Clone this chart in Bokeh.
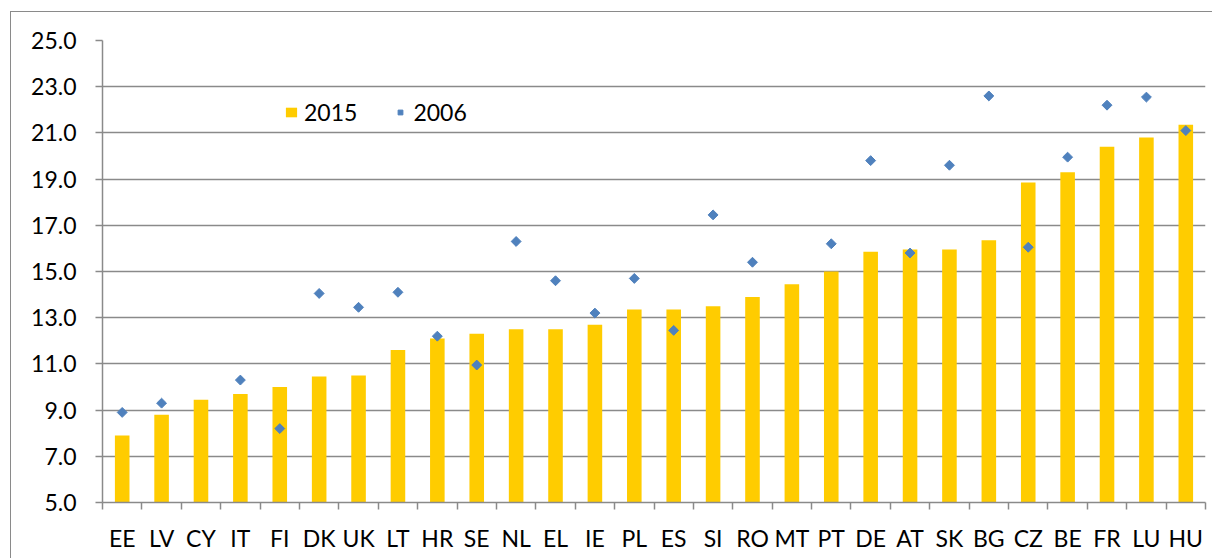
import math
from bokeh.plotting import figure
from bokeh.models import FixedTicker, Legend, LegendItem, Range1d
from bokeh.embed import file_html
from bokeh.resources import INLINE

countries = ["EE", "LV", "CY", "IT", "FI", "DK", "UK", "LT", "HR", "SE", "NL", "EL", "IE",
             "PL", "ES", "SI", "RO", "MT", "PT", "DE", "AT", "SK", "BG", "CZ", "BE", "FR",
             "LU", "HU"]
v2015 = [7.9, 8.8, 9.45, 9.7, 10.0, 10.45, 10.5, 11.6, 12.1, 12.3, 12.5, 12.5, 12.7,
         13.35, 13.35, 13.5, 13.9, 14.45, 15.0, 15.85, 15.95, 15.95, 16.35, 18.85, 19.3,
         20.4, 20.8, 21.35]
nan = float("nan")
v2006 = [8.9, 9.3, nan, 10.3, 8.2, 14.05, 13.45, 14.1, 12.2, 10.95, 16.3, 14.6, 13.2,
         14.7, 12.45, 17.45, 15.4, nan, 16.2, 19.8, 15.8, 19.6, 22.6, 16.05, 19.95,
         22.2, 22.55, 21.1]
y_ticks = [5, 7, 9, 11, 13, 15, 17, 19, 21, 23, 25]
y_tick_labels = ["5.0", "7.0", "9.0", "11.0", "13.0", "15.0", "17.0", "19.0", "21.0", "23.0", "25.0"]

n = len(countries)
xs = list(range(n))
FONT = "Lato"
GRID = "#8a8a8a"

p = figure(width=1212, height=558, x_range=Range1d(-0.5, n - 0.5), y_range=Range1d(5, 25),
           output_backend="svg", toolbar_location=None,
           min_border_left=102, min_border_right=7, min_border_top=40, min_border_bottom=56)
p.styles = {
    "background": ("linear-gradient(#8a8a8a, #8a8a8a) 10px 11px / 1px 100% no-repeat, "
                   "linear-gradient(#8a8a8a, #8a8a8a) 10px 11px / 100% 1px no-repeat, white"),
}
p.outline_line_color = None
p.background_fill_color = "white"
p.border_fill_color = None

bars = p.vbar(x=xs, top=v2015, bottom=5, width=0.37, fill_color="#FFCC00", line_color=None)
pts = p.scatter(x=xs, y=v2006, marker="square", angle=math.pi / 4, size=7,
                fill_color="#4F81BD", line_color="#4F81BD")

# y axis
p.yaxis.ticker = FixedTicker(ticks=y_ticks)
p.yaxis.major_label_overrides = {t: l for t, l in zip(y_ticks, y_tick_labels)}
p.yaxis.axis_line_color = GRID
p.yaxis.axis_line_width = 1.5
p.yaxis.major_tick_line_color = GRID
p.yaxis.major_tick_line_width = 1.5
p.yaxis.major_tick_out = 7
p.yaxis.major_tick_in = 0
p.yaxis.minor_tick_line_color = None
p.yaxis.major_label_standoff = 19
p.yaxis.major_label_text_font = FONT
p.yaxis.major_label_text_font_size = "23px"
p.yaxis.major_label_text_color = "black"

# x axis
p.xaxis.ticker = FixedTicker(ticks=xs, minor_ticks=[i - 0.5 for i in range(n + 1)])
p.xaxis.major_label_overrides = {i: c for i, c in zip(xs, countries)}
p.xaxis.axis_line_color = GRID
p.xaxis.axis_line_width = 1.5
p.xaxis.major_tick_line_color = None
p.xaxis.minor_tick_line_color = GRID
p.xaxis.minor_tick_line_width = 1.5
p.xaxis.minor_tick_out = 7
p.xaxis.minor_tick_in = 0
p.xaxis.major_label_standoff = 14
p.xaxis.major_label_text_font = FONT
p.xaxis.major_label_text_font_size = "23px"
p.xaxis.major_label_text_color = "black"

# grid
p.xgrid.grid_line_color = None
p.ygrid.ticker = FixedTicker(ticks=y_ticks)
p.ygrid.grid_line_color = GRID
p.ygrid.grid_line_width = 1.5

legend = Legend(items=[LegendItem(label="2015", renderers=[bars]),
                       LegendItem(label="2006", renderers=[pts])],
                orientation="horizontal", location=(182, 376),
                border_line_color=None, background_fill_alpha=0,
                padding=0, margin=0, spacing=36,
                glyph_width=14, glyph_height=12, label_standoff=6,
                label_text_font=FONT, label_text_font_size="23px",
                label_text_color="black")
p.add_layout(legend)

open("out.html", "w").write(file_html(p, INLINE))
